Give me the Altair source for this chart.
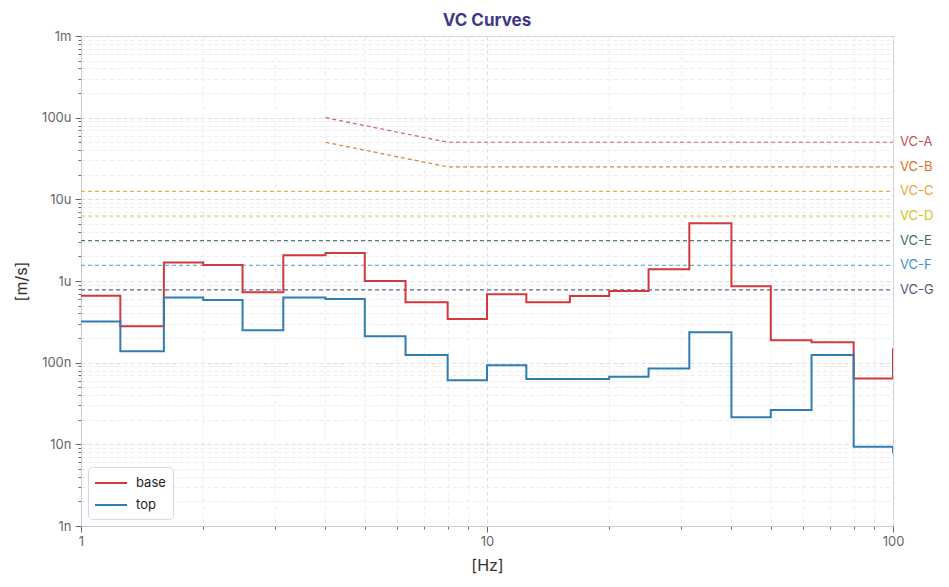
import altair as alt
import pandas as pd

# 1/3-octave band start frequencies [Hz]
band_hz = [1, 1.25, 1.6, 2, 2.5, 3.15, 4, 5, 6.3, 8, 10, 12.5, 16, 20, 25, 31.5, 40, 50, 63, 80, 100]
# velocity per band [um/s]
base_um = [0.66, 0.279, 1.69, 1.57, 0.73, 2.06, 2.2, 1.0, 0.55, 0.343, 0.69, 0.55, 0.655, 0.755,
           1.39, 5.09, 0.86, 0.188, 0.178, 0.064, 0.15]
top_um = [0.32, 0.138, 0.63, 0.585, 0.25, 0.63, 0.6, 0.21, 0.124, 0.061, 0.093, 0.063, 0.063, 0.067,
          0.085, 0.235, 0.0214, 0.0263, 0.124, 0.00935, 0.0078]

series_names = ["base", "top"]
series_colors = ["#d03a3a", "#2f7db3"]

# VC criteria curves [um/s]
vc_names = ["VC-A", "VC-B", "VC-C", "VC-D", "VC-E", "VC-F", "VC-G"]
vc_colors = ["#c8504f", "#d9702a", "#f2a03a", "#d2c324", "#3e6e5a", "#3b8fcc", "#5b5378"]
vc_freqs = [[4, 8, 100], [4, 8, 100], [1, 100], [1, 100], [1, 100], [1, 100], [1, 100]]
vc_levels_um = [[100, 50, 50], [50, 25, 25], [12.5, 12.5], [6.25, 6.25], [3.12, 3.12], [1.56, 1.56], [0.78, 0.78]]

x_major = [1, 10, 100]
x_major_labels = ["1", "10", "100"]
y_major = [1e-9, 1e-8, 1e-7, 1e-6, 1e-5, 1e-4, 1e-3]
y_major_labels = ["1n", "10n", "100n", "1u", "10u", "100u", "1m"]

# ---- tables ----
rows = []
for name, vals in zip(series_names, [base_um, top_um]):
    for f, v in zip(band_hz, vals):
        rows.append({"freq": f, "vel": v * 1e-6, "series": name})
df_steps = pd.DataFrame(rows)

vrows = []
for name, fs, ls in zip(vc_names, vc_freqs, vc_levels_um):
    for i, (f, l) in enumerate(zip(fs, ls)):
        vrows.append({"freq": f, "vel": l * 1e-6, "curve": name, "order": i})
df_vc = pd.DataFrame(vrows)
df_vc_lab = df_vc[df_vc["freq"] == 100].copy()

x_ticks = []
for d in [1, 10]:
    x_ticks += [d * m for m in range(1, 10)]
x_ticks.append(100)
y_ticks = []
for e in range(-9, -3):
    y_ticks += [m * 10.0 ** e for m in range(1, 10)]
y_ticks.append(1e-3)

major_test = "abs(log(datum.value)/LN10 - round(log(datum.value)/LN10)) < 0.001"
x_label_expr = ("%s ? %s[round(log(datum.value)/LN10)] : ''"
                % (major_test, "[" + ",".join("'%s'" % s for s in x_major_labels) + "]"))
y_label_expr = ("%s ? %s[round(log(datum.value)/LN10) + 9] : ''"
                % (major_test, "[" + ",".join("'%s'" % s for s in y_major_labels) + "]"))

grid_color = {"condition": {"test": major_test, "value": "#dcdce6"}, "value": "#ececf2"}
tick_size = {"condition": {"test": major_test, "value": 6}, "value": 3}

x_axis = alt.Axis(values=x_ticks, labelExpr=x_label_expr, title="[Hz]", grid=True,
                  gridDash=[4, 3], gridColor=grid_color, tickSize=tick_size,
                  labelFlush=False, labelOverlap=False, labelPadding=3, titlePadding=9)
y_axis = alt.Axis(values=y_ticks, labelExpr=y_label_expr, title="[m/s]", grid=True,
                  gridDash=[4, 3], gridColor=grid_color, tickSize=tick_size,
                  labelOverlap=False, labelPadding=4, titlePadding=12)

x_enc = alt.X("freq:Q", scale=alt.Scale(type="log", domain=[1, 100], nice=False), axis=x_axis)
y_enc = alt.Y("vel:Q", scale=alt.Scale(type="log", domain=[1e-9, 1e-3], nice=False), axis=y_axis)

vc_lines = alt.Chart(df_vc).mark_line(strokeDash=[4, 3], strokeWidth=1.2, opacity=0.9).encode(
    x=x_enc, y=y_enc,
    color=alt.Color("curve:N", scale=alt.Scale(domain=vc_names, range=vc_colors), legend=None),
    order="order:Q",
)
vc_text = alt.Chart(df_vc_lab).mark_text(align="left", dx=7, fontSize=13, font="Inter").encode(
    x=x_enc, y=y_enc, text="curve:N",
    color=alt.Color("curve:N", scale=alt.Scale(domain=vc_names, range=vc_colors), legend=None),
)
steps = alt.Chart(df_steps).mark_line(interpolate="step-after", strokeWidth=2, clip=True).encode(
    x=x_enc, y=y_enc,
    color=alt.Color("series:N", scale=alt.Scale(domain=series_names, range=series_colors),
                    legend=alt.Legend(title=None)),
)

chart = alt.layer(vc_lines, vc_text, steps).resolve_scale(color="independent").properties(
    width=812, height=490,
    autosize=alt.AutoSizeParams(type="none"),
    padding={"left": 73, "top": 28, "right": 45, "bottom": 50},
    title=alt.TitleParams("VC Curves", fontSize=17, fontWeight="bold", color="#3b3a86",
                          font="Inter", offset=0),
).configure_view(stroke="#c8c8da", strokeWidth=1).configure_axis(
    domainColor="#c8c8da", tickColor="#666", labelColor="#666", labelFont="Inter",
    labelFontSize=13, titleFont="Inter", titleFontSize=16, titleFontWeight="normal",
    titleColor="#333",
).configure_legend(
    orient="bottom-left", offset=7, fillColor="white", strokeColor="#d8d8e2", padding=7,
    cornerRadius=4, labelFontSize=13, labelColor="#222", labelFont="Inter",
    symbolType="M-2,0L2,0", symbolStrokeWidth=2, symbolSize=256, symbolOffset=7,
    labelOffset=16, rowPadding=6,
)

chart.save("out.html", embed_options={"renderer": "svg", "actions": False})
